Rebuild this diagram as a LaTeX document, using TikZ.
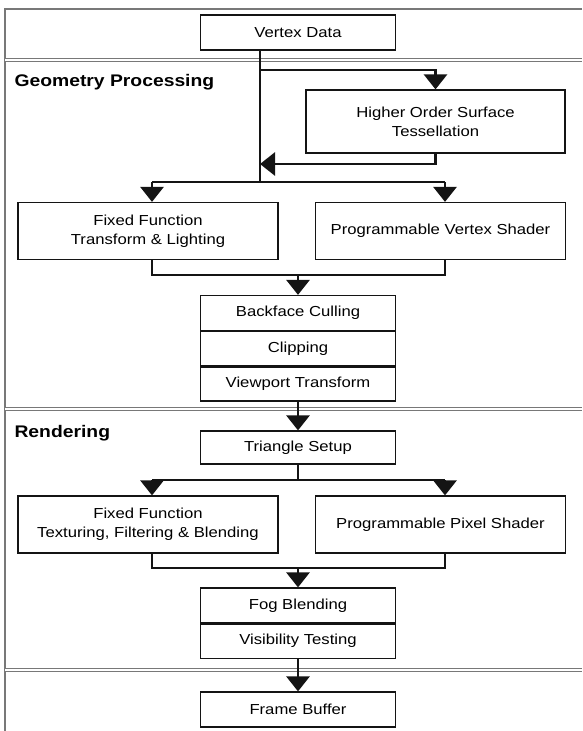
\documentclass[tikz,border=0pt]{standalone}
\usepackage{fontspec}
\setmainfont{Liberation Sans}[FakeStretch=1.15]
\usepackage{tikz}
\usetikzlibrary{arrows.meta, positioning, calc}
\definecolor{mydark}{RGB}{20,20,20}
\definecolor{mygrid}{RGB}{120,120,120}
\tikzset{
  block/.style={rectangle, draw=mydark, fill=white, align=center,
    minimum width=195pt, minimum height=35pt, inner sep=0pt,
    font=\fontsize{14.5}{19}\selectfont, line width=1.2pt},
  wideblock/.style={block, minimum height=57pt},
  arrow/.style={-{Triangle[width=23pt,length=15pt]}, line width=2.8pt, color=mydark},
  line/.style={line width=2.8pt, color=mydark},
  stagelabel/.style={anchor=west, font=\fontsize{16.8}{20}\selectfont\bfseries},
  frameline/.style={draw=mygrid, line width=1.4pt},
  bandline/.style={draw=mygrid, double=white, double distance=2pt, line width=1pt}
}

\begin{document}
\begin{tikzpicture}[x=1pt, y=1pt, node distance=0pt]
  \useasboundingbox (0,0) rectangle (582,-731);

  % Frame and stage bands
  \draw[frameline] (582,-9) -- (5,-9) -- (5,-731);
  \draw[bandline] (5,-59.5) -- (582,-59.5);
  \draw[bandline] (5,-409) -- (582,-409);
  \draw[bandline] (5,-669.5) -- (582,-669.5);

  \node[stagelabel] (geolabel) at (11,-82) {Geometry Processing};
  \node[stagelabel] (renlabel) at (11,-433) {Rendering};

  % Nodes
  \node[block] (vdata) at (298,-32.5) {Vertex Data};
  \node[block, minimum width=259pt, minimum height=63pt] (hos) at (435.5,-121.5) {Higher Order Surface\\Tessellation};
  \node[wideblock, minimum width=260pt] (ffgeo) at (148,-231) {Fixed Function\\Transform \& Lighting};
  \node[wideblock, minimum width=250pt] (pvs) at (440.5,-231) {Programmable Vertex Shader};
  \node[block] (cull) at (298,-313) {Backface Culling};
  \node[block, below=0pt of cull, minimum height=34pt] (clip) {Clipping};
  \node[block, below=0pt of clip, minimum height=34pt] (vport) {Viewport Transform};
  \node[block, minimum height=33pt] (tri) at (298,-447.5) {Triangle Setup};
  \node[wideblock, minimum width=260pt] (fftex) at (148,-524.5) {Fixed Function\\Texturing, Filtering \& Blending};
  \node[wideblock, minimum width=250pt] (pps) at (440.5,-524.5) {Programmable Pixel Shader};
  \node[block] (fog) at (298,-605.5) {Fog Blending};
  \node[block, below=0pt of fog, minimum height=34pt] (vis) {Visibility Testing};
  \node[block] (fbuf) at (298,-709.5) {Frame Buffer};

  % Geometry connections
  \coordinate (branch) at (260,-70);
  \coordinate (rejoin) at (260,-164);
  \coordinate (tap) at (260,-182);
  \coordinate (gl) at (152,-182);
  \coordinate (gr) at (445,-182);
  \coordinate (gmerge) at (298,-275);
  \draw[line] (vdata.south -| tap) -- (tap);
  \draw[arrow] (branch) -| (hos.north);
  \draw[arrow] (hos.south) |- (rejoin);
  \draw[line] (gl) -- (gr);
  \draw[arrow] (gl) -- (gl |- ffgeo.north);
  \draw[arrow] (gr) -- (gr |- pvs.north);
  \draw[line] (gl |- ffgeo.south) |- (gmerge) -| (gr |- pvs.south);
  \draw[arrow] (gmerge) -- (cull.north);

  % Rendering connections
  \coordinate (rl) at (152,-480);
  \coordinate (rr) at (445,-480);
  \coordinate (rmerge) at (298,-568);
  \draw[arrow] (vport.south) -- (tri.north);
  \draw[line] (tri.south) -- (tri.south |- rl);
  \draw[line] (rl) -- (rr);
  \draw[arrow] (rl) -- (rl |- fftex.north);
  \draw[arrow] (rr) -- (rr |- pps.north);
  \draw[line] (rl |- fftex.south) |- (rmerge) -| (rr |- pps.south);
  \draw[arrow] (rmerge) -- (fog.north);
  \draw[arrow] (vis.south) -- (fbuf.north);

\end{tikzpicture}
\end{document}
